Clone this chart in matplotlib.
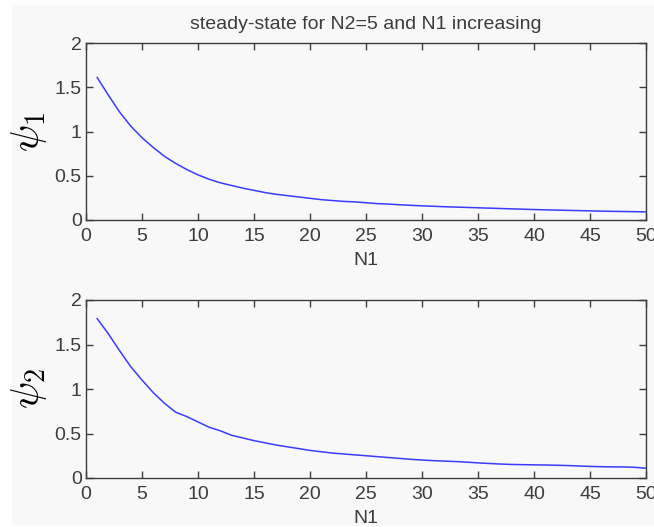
import matplotlib
matplotlib.use('Agg')
import matplotlib.pyplot as plt
from matplotlib.patches import Rectangle
from matplotlib.ticker import FormatStrFormatter
import numpy as np

# values, N1 = 1..50
n1 = list(range(1, 51))
psi1 = [1.61, 1.41, 1.22, 1.06, 0.93, 0.82, 0.72, 0.64, 0.57, 0.51,
        0.46, 0.42, 0.39, 0.36, 0.335, 0.31, 0.29, 0.275, 0.26, 0.245,
        0.23, 0.22, 0.21, 0.205, 0.195, 0.185, 0.18, 0.172, 0.166, 0.16,
        0.155, 0.15, 0.146, 0.142, 0.138, 0.134, 0.13, 0.126, 0.122, 0.118,
        0.115, 0.112, 0.109, 0.106, 0.103, 0.1, 0.098, 0.096, 0.094, 0.092]
psi2 = [1.79, 1.62, 1.43, 1.25, 1.1, 0.96, 0.84, 0.74, 0.69, 0.63,
        0.57, 0.53, 0.48, 0.45, 0.42, 0.395, 0.37, 0.35, 0.33, 0.31,
        0.295, 0.28, 0.27, 0.26, 0.25, 0.24, 0.23, 0.22, 0.21, 0.202,
        0.195, 0.19, 0.185, 0.178, 0.17, 0.163, 0.157, 0.152, 0.15, 0.148,
        0.146, 0.143, 0.14, 0.135, 0.13, 0.127, 0.125, 0.124, 0.12, 0.11]
xticks = list(range(0, 51, 5))
yticks = [0, 0.5, 1, 1.5, 2]
title = 'steady-state for N2=5 and N1 increasing'

plt.rcParams['font.family'] = 'Liberation Sans'
plt.rcParams['mathtext.fontset'] = 'cm'

W, H = 654, 527
fig = plt.figure(figsize=(W / 100, H / 100), dpi=100, facecolor='white')
bg = '#f8f8f8'
fig.patches.append(Rectangle((12 / W, 3 / H), 1 - 12 / W, 1 - 8 / H,
                             transform=fig.transFigure, color=bg, zorder=-1))

grey = '#3c3c3c'
fs = 14
boxes = [(86, 43, 646, 220), (86, 300, 646, 478)]
ys = [psi1, psi2]
labels = [r'$\psi_1$', r'$\psi_2$']

for (x0, y0, x1, y1), y, lab in zip(boxes, ys, labels):
    ax = fig.add_axes([x0 / W, 1 - y1 / H, (x1 - x0) / W, (y1 - y0) / H])
    ax.set_facecolor(bg)
    ax.plot(n1, y, color='#3b3bff', lw=1.1)
    ax.set_xlim(0, 50)
    ax.set_ylim(0, 2)
    ax.set_xticks(xticks)
    ax.set_yticks(yticks)
    ax.yaxis.set_major_formatter(FormatStrFormatter('%g'))
    ax.tick_params(direction='in', length=5, width=1, color=grey,
                   labelcolor=grey, labelsize=fs, top=True, right=True, pad=3)
    ax.tick_params(axis='x', pad=6)
    for s in ax.spines.values():
        s.set_color(grey)
        s.set_linewidth(1)
    ax.set_xlabel('N1', fontsize=fs, color=grey, labelpad=5)
    ax.set_ylabel(lab, fontsize=29, color='black', labelpad=4)
    if lab == labels[0]:
        ax.set_title(title, fontsize=fs, color=grey, pad=10)

fig.savefig('out.png', dpi=100, facecolor='white')
